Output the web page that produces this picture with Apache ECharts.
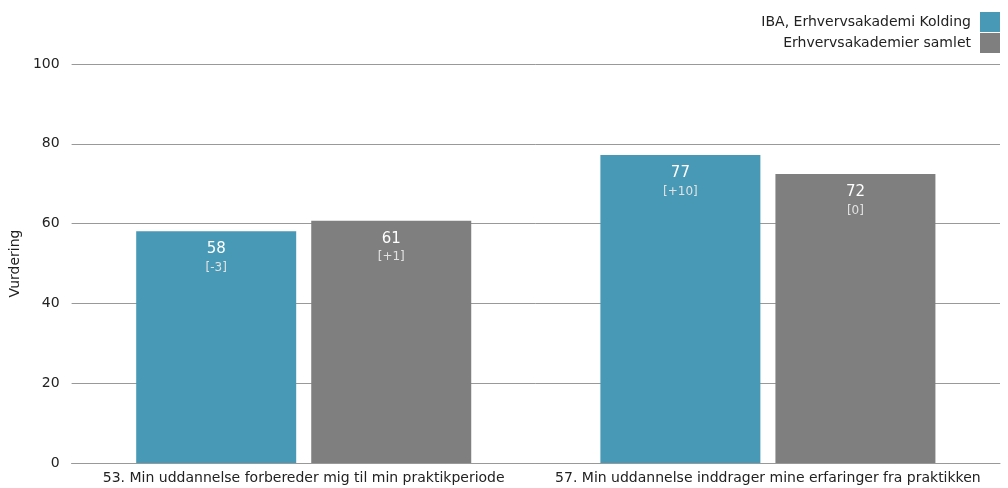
<!DOCTYPE html>
<html>
<head>
<meta charset="utf-8">
<script src="https://cdn.jsdelivr.net/npm/echarts@6/dist/echarts.min.js"></script>
<style>html,body{margin:0;padding:0;background:#fff}#c{width:1008px;height:488px}</style>
</head>
<body>
<div id="c"></div>
<script>
var categories = ['53. Min uddannelse forbereder mig til min praktikperiode', '57. Min uddannelse inddrager mine erfaringer fra praktikken'];
var seriesNames = ['IBA, Erhvervsakademi Kolding', 'Erhvervsakademier samlet'];
var ibaValues = [58.1, 77.2];
var ibaLabels = ['58', '77'];
var ibaChanges = ['[-3]', '[+10]'];
var allValues = [60.7, 72.4];
var allLabels = ['61', '72'];
var allChanges = ['[+1]', '[0]'];
var yTicks = [0, 20, 40, 60, 80, 100];

var FONT = 'DejaVu Sans, sans-serif';
var chart = echarts.init(document.getElementById('c'), null, {renderer: 'canvas'});

function mk(name, vals, labs, chg, color) {
  return {
    name: name, type: 'bar', barWidth: 160, barGap: '9.4%',
    itemStyle: {color: color},
    data: vals.map(function (v, i) { return {value: v, lab: labs[i], chg: chg[i]}; }),
    label: {
      show: true, position: 'insideTop', distance: 8,
      formatter: function (p) { return '{a|' + p.data.lab + '}\n{b|' + p.data.chg + '}'; },
      rich: {
        a: {color: '#ffffff', fontSize: 15, fontFamily: FONT, lineHeight: 20},
        b: {color: '#e2e2e2', fontSize: 12, fontFamily: FONT, lineHeight: 17}
      }
    }
  };
}

chart.setOption({
  animation: false,
  textStyle: {fontFamily: FONT},
  legend: {
    orient: 'vertical', right: 3, top: 7, align: 'right',
    itemWidth: 20, itemHeight: 20, itemGap: 1,
    icon: 'rect',
    textStyle: {fontSize: 14, color: '#222', fontFamily: FONT, padding: [0, 4, 0, 0]},
    data: seriesNames
  },
  grid: {left: 66, right: 8, top: 64, bottom: 25, containLabel: false},
  xAxis: {
    type: 'category', data: categories,
    axisLine: {lineStyle: {color: '#999', width: 1}},
    axisTick: {show: false},
    axisLabel: {fontSize: 14, color: '#222', fontFamily: FONT, margin: 8, interval: 0}
  },
  yAxis: {
    type: 'value', min: yTicks[0], max: yTicks[yTicks.length - 1], interval: 20,
    name: 'Vurdering', nameLocation: 'middle', nameGap: 48, nameRotate: 90,
    nameTextStyle: {fontSize: 14, color: '#222', fontFamily: FONT},
    axisLine: {show: false},
    axisTick: {show: false},
    axisLabel: {fontSize: 14, color: '#222', fontFamily: FONT, margin: 12},
    splitLine: {lineStyle: {color: '#999', width: 1}}
  },
  series: [
    mk(seriesNames[0], ibaValues, ibaLabels, ibaChanges, '#4899b5'),
    mk(seriesNames[1], allValues, allLabels, allChanges, '#7f7f7f')
  ]
});
</script>
</body>
</html>
